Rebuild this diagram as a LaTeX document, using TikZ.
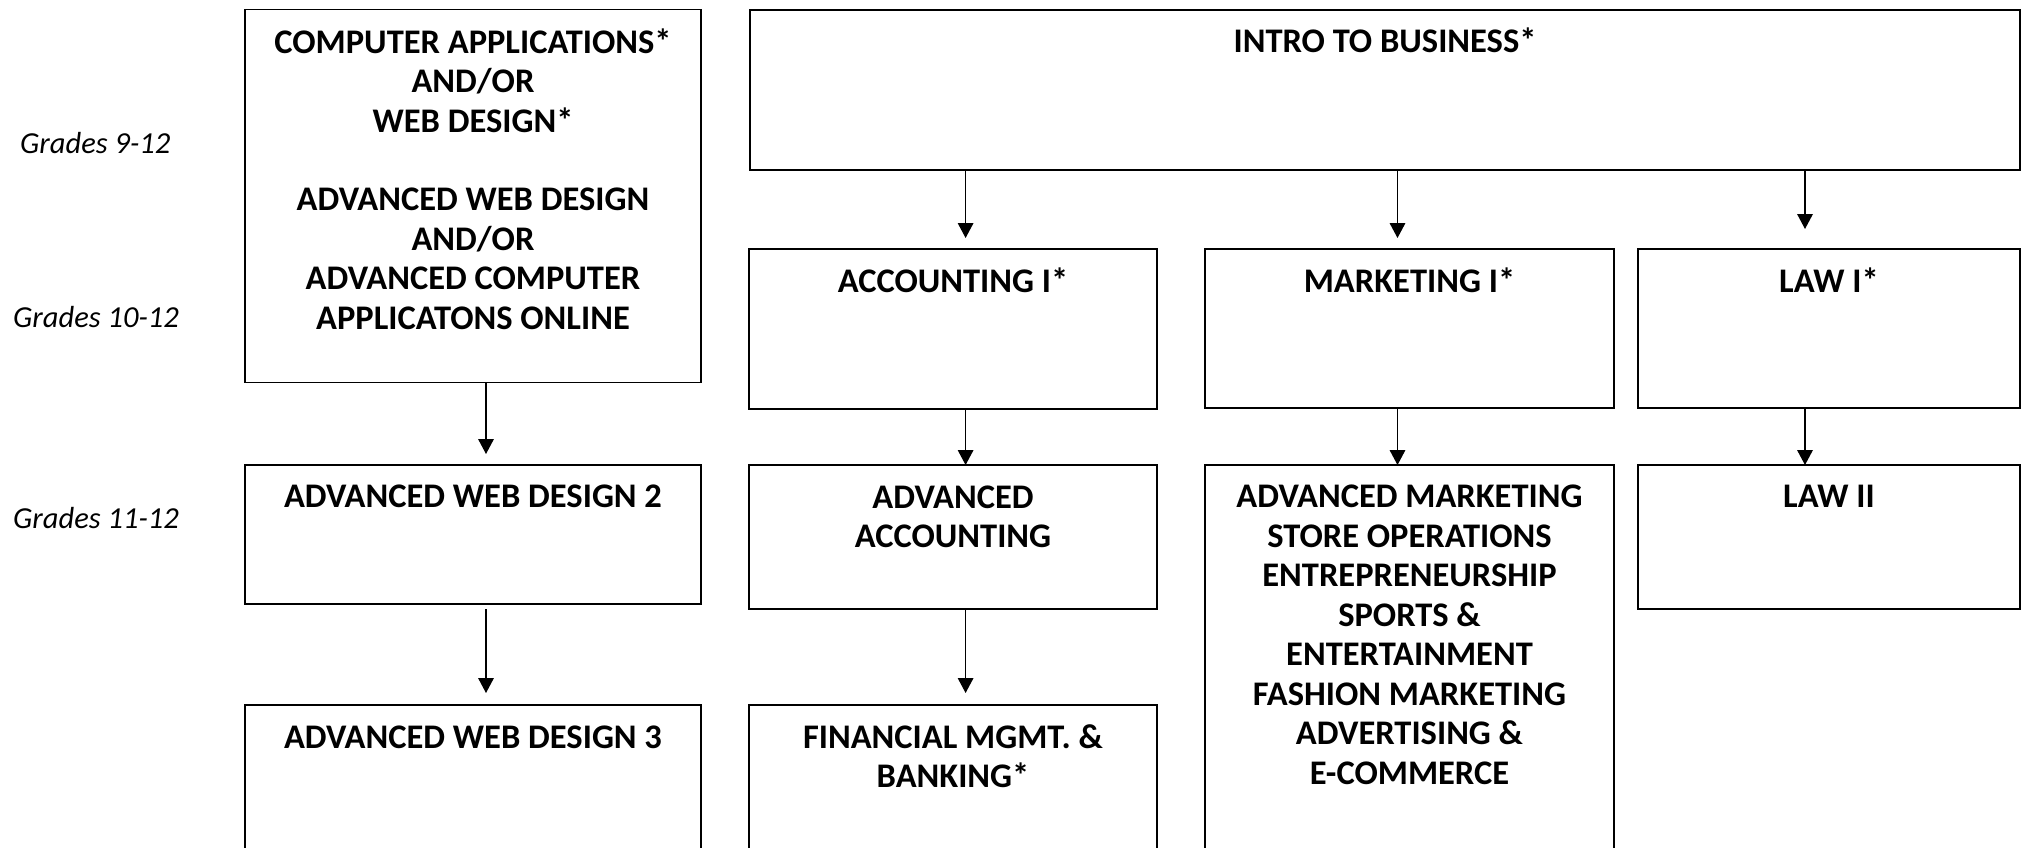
\documentclass[tikz,border=0pt]{standalone}
\usepackage{fontspec}
\setmainfont{Carlito}
\usetikzlibrary{arrows.meta,calc}
\newcommand\toprule{\rule{0pt}{30pt}}
\begin{document}
\begin{tikzpicture}[x=1pt,y=-1pt,
  box/.style={draw, line width=1.6pt, rectangle, inner sep=0pt, outer sep=0pt, anchor=north west},
  ttl/.style={font=\fontsize{34.5}{39.5}\selectfont\bfseries, align=center, inner sep=0pt, anchor=north},
  grade/.style={font=\fontsize{30.5}{36}\selectfont\itshape, anchor=base west, inner sep=0pt},
  arr/.style={line width=1.4pt, -{Triangle[width=15.6pt,length=15pt]}}]

\useasboundingbox (0,0) rectangle (2022,847);
\clip (0,0) rectangle (2022,847);

% boxes
\node[box, minimum width=456, minimum height=373] (ca) at (245,9.5) {};
\node[box, minimum width=1270, minimum height=160] (intro) at (750,10) {};
\node[box, minimum width=408, minimum height=160] (acc1) at (749,249) {};
\node[box, minimum width=409, minimum height=159] (mkt1) at (1205,249) {};
\node[box, minimum width=382, minimum height=159] (law1) at (1638,249) {};
\node[box, minimum width=456, minimum height=139] (awd2) at (245,465) {};
\node[box, minimum width=408, minimum height=144] (advacc) at (749,465) {};
\node[box, minimum width=409, minimum height=420] (advmkt) at (1205,465) {};
\node[box, minimum width=382, minimum height=144] (law2) at (1638,465) {};
\node[box, minimum width=456, minimum height=180] (awd3) at (245,705) {};
\node[box, minimum width=408, minimum height=180] (fin) at (749,705) {};

% texts (first baseline about 43 below the box top; \toprule is 30pt tall)
\node[ttl] (caT) at ($(ca.north)+(0,13.5)$) {\toprule COMPUTER APPLICATIONS*\\AND/OR\\WEB DESIGN*\\[39pt]ADVANCED WEB DESIGN\\AND/OR\\ADVANCED COMPUTER\\APPLICATONS ONLINE};
\node[ttl] (introT) at ($(intro.north)+(0,12)$) {\toprule INTRO TO BUSINESS*};
\node[ttl] (acc1T) at ($(acc1.north)+(0,13)$) {\toprule ACCOUNTING I*};
\node[ttl] (mkt1T) at ($(mkt1.north)+(0,13)$) {\toprule MARKETING I*};
\node[ttl] (law1T) at ($(law1.north)+(0,13)$) {\toprule LAW I*};
\node[ttl] (awd2T) at ($(awd2.north)+(0,12.5)$) {\toprule ADVANCED WEB DESIGN 2};
\node[ttl] (advaccT) at ($(advacc.north)+(0,13)$) {\toprule ADVANCED\\ACCOUNTING};
\node[ttl] (advmktT) at ($(advmkt.north)+(0,12.5)$) {\toprule ADVANCED MARKETING\\STORE OPERATIONS\\ENTREPRENEURSHIP\\SPORTS \&\\ENTERTAINMENT\\FASHION MARKETING\\ADVERTISING \&\\E-COMMERCE};
\node[ttl] (law2T) at ($(law2.north)+(0,12.5)$) {\toprule LAW II};
\node[ttl] (awd3T) at ($(awd3.north)+(0,13)$) {\toprule ADVANCED WEB DESIGN 3};
\node[ttl] (finT) at ($(fin.north)+(0,13)$) {\toprule FINANCIAL MGMT. \&\\BANKING*};

% grade labels
\node[grade] (g1) at (20,153) {Grades 9-12};
\node[grade] (g2) at (13,327) {Grades 10-12};
\node[grade] (g3) at (13,528) {Grades 11-12};

% arrow columns
\coordinate (xA) at (486,0);
\coordinate (xB) at (965.6,0);
\coordinate (xC) at (1397.5,0);
\coordinate (xD) at (1805,0);

\draw[arr] (ca.south -| xA) -- ($(awd2.north -| xA)+(0,-11)$);
\draw[arr] ($(awd2.south -| xA)+(0,5)$) -- ($(awd3.north -| xA)+(0,-12)$);
\draw[arr] (intro.south -| xB) -- ($(acc1.north -| xB)+(0,-11)$);
\draw[arr] (intro.south -| xC) -- ($(mkt1.north -| xC)+(0,-11)$);
\draw[arr] (intro.south -| xD) -- ($(law1.north -| xD)+(0,-20)$);
\draw[arr] (acc1.south -| xB) -- (advacc.north -| xB);
\draw[arr] (mkt1.south -| xC) -- (advmkt.north -| xC);
\draw[arr] (law1.south -| xD) -- (law2.north -| xD);
\draw[arr] (advacc.south -| xB) -- ($(fin.north -| xB)+(0,-12)$);
\end{tikzpicture}
\end{document}
